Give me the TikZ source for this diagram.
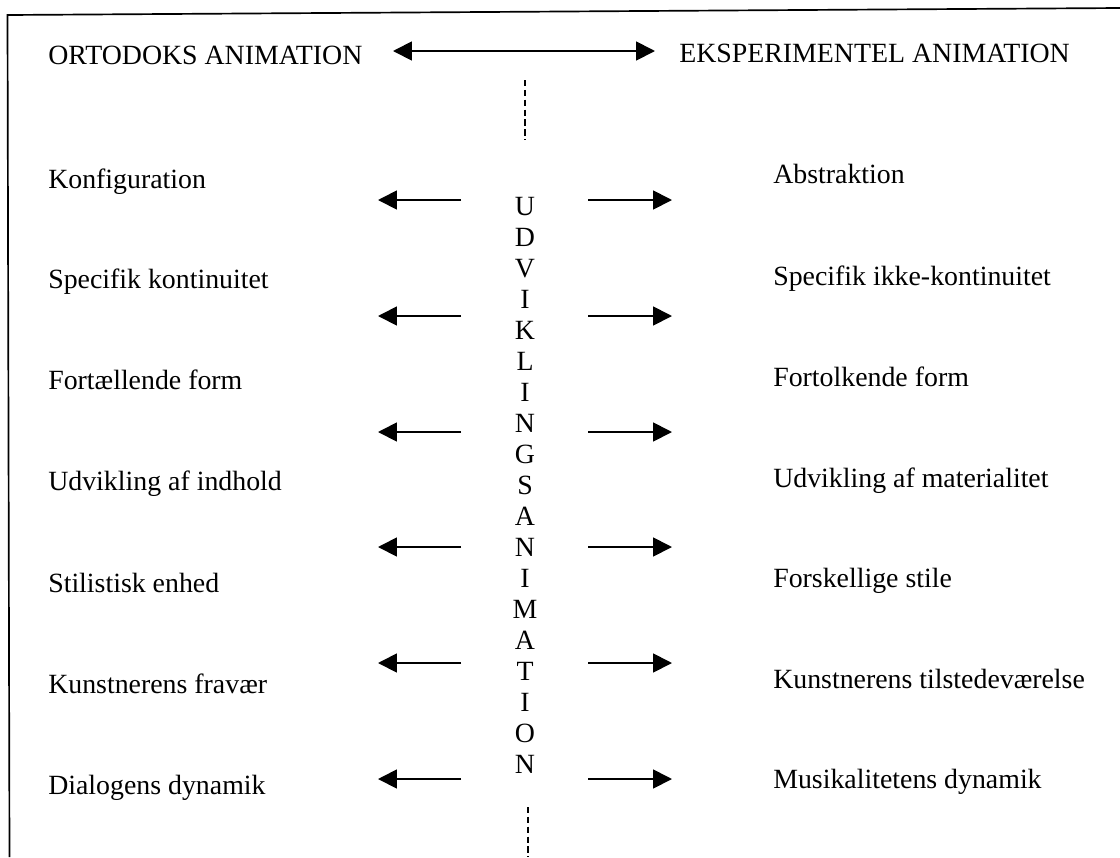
\documentclass[tikz,border=0pt]{standalone}
\usepackage{fontspec}
\setmainfont{Liberation Serif}
\usetikzlibrary{arrows.meta}

\tikzset{
  itemtext/.style={anchor=base west,inner sep=0pt,font=\fontsize{19.8}{23}\selectfont},
  lettertext/.style={anchor=base,inner sep=0pt,font=\fontsize{19.8}{23}\selectfont},
  pointer/.style={-{Triangle[length=13.5pt,width=13.5pt]},line width=1.3pt},
  guide/.style={dash pattern=on 4.5pt off 2.5pt,line width=0.9pt}
}

\begin{document}
\begin{tikzpicture}[x=0.025cm,y=-0.025cm]
  \useasboundingbox (0,0) rectangle (1120,857);
  % frame
  \draw[line width=1.2pt] (9.5,857) -- (7.5,15) -- (1120,8);
  \draw[itemtext]
    (48,64) node (ortodoks){ORTODOKS ANIMATION}
    (679,62) node (eksperimentel){EKSPERIMENTEL ANIMATION}
    (48,188) node (l1){Konfiguration}
    (48,288) node (l2){Specifik kontinuitet}
    (48,389) node (l3){Fortællende form}
    (48,490) node (l4){Udvikling af indhold}
    (48,592) node (l5){Stilistisk enhed}
    (48,693) node (l6){Kunstnerens fravær}
    (48,794) node (l7){Dialogens dynamik}
    (773,183) node (r1){Abstraktion}
    (773,285) node (r2){Specifik ikke-kontinuitet}
    (773,386) node (r3){Fortolkende form}
    (773,487) node (r4){Udvikling af materialitet}
    (773,587) node (r5){Forskellige stile}
    (773,688) node (r6){Kunstnerens tilstedeværelse}
    (773,788) node (r7){Musikalitetens dynamik};
  % vertical word
  \foreach \ch [count=\i] in {U,D,V,I,K,L,I,N,G,S,A,N,I,M,A,T,I,O,N}
    \node[lettertext] (u\i) at (525,215.5+31*\i-31) {\ch};
  % heading arrow
  \coordinate (hl) at (393,51);
  \coordinate (hr) at (655,51);
  \draw[pointer,{Triangle[length=13.5pt,width=13.5pt]}-{Triangle[length=13.5pt,width=13.5pt]}] (hl) -- (hr);
  % dashed guides
  \coordinate (gt1) at (525,80);
  \coordinate (gt2) at (525,140);
  \coordinate (gb1) at (528,807);
  \coordinate (gb2) at (528,857);
  \draw[guide] (gt1) -- (gt2);
  \draw[guide] (gb1) -- (gb2);
  % side arrows
  \foreach \y [count=\i] in {200,316,432,547,663,779} {
    \coordinate (al\i) at (461,\y);
    \coordinate (tl\i) at (378,\y);
    \coordinate (ar\i) at (588,\y);
    \coordinate (tr\i) at (672,\y);
    \draw[pointer] (al\i) -- (tl\i);
    \draw[pointer] (ar\i) -- (tr\i);
  }
\end{tikzpicture}
\end{document}
